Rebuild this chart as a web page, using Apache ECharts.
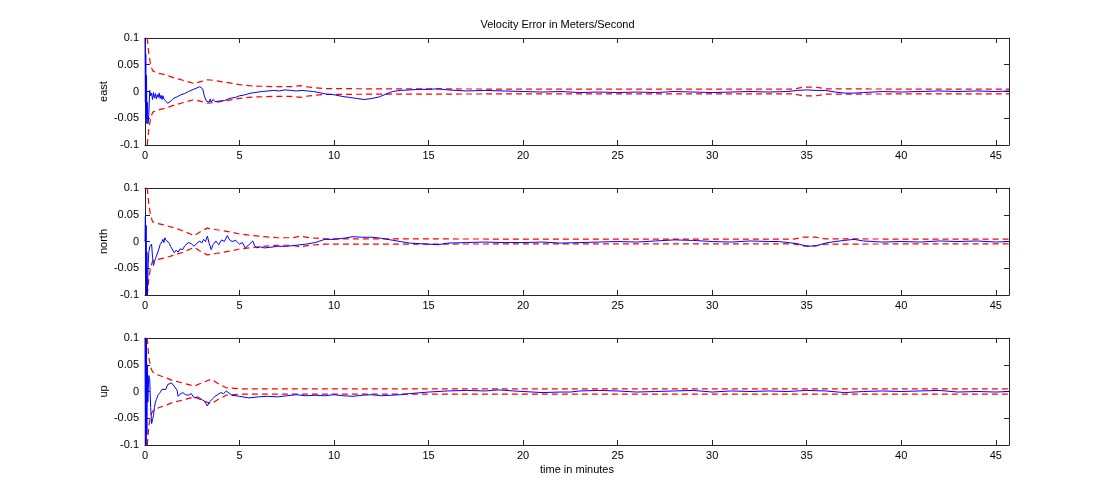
<!DOCTYPE html>
<html>
<head>
<meta charset="utf-8">
<script src="https://cdn.jsdelivr.net/npm/echarts@6/dist/echarts.min.js"></script>
<style>
html,body{margin:0;padding:0;background:#fff;}
#chart{width:1115px;height:500px;}
</style>
</head>
<body>
<div id="chart"></div>
<script>
const titleText = 'Velocity Error in Meters/Second';
const xLabelText = 'time in minutes';
const panelNames = ['east', 'north', 'up'];
const xTicks = [0, 5, 10, 15, 20, 25, 30, 35, 40, 45];
const yTicks = [-0.1, -0.05, 0, 0.05, 0.1];
const xMax = 45.7;

const eastError = [[0,0.1],[0.02,-0.02],[0.04,0.07],[0.06,-0.05],[0.08,0.03],[0.1,-0.06],[0.13,-0.02],[0.16,-0.06],[0.2,-0.045],[0.25,0.002],[0.3,-0.008],[0.35,-0.003],[0.4,-0.015],[0.45,-0.002],[0.5,-0.012],[0.55,-0.004],[0.6,-0.014],[0.65,-0.006],[0.7,-0.011],[0.75,-0.003],[0.8,-0.013],[0.85,-0.007],[0.9,-0.015],[0.95,-0.008],[1.0,-0.014],[1.1,-0.018],[1.2,-0.022],[1.3,-0.019],[1.4,-0.017],[1.5,-0.013],[1.6,-0.014],[1.7,-0.01],[1.8,-0.009],[1.9,-0.006],[2.0,-0.007],[2.1,-0.004],[2.2,-0.003],[2.3,0.0],[2.4,-0.001],[2.5,0.003],[2.6,0.004],[2.7,0.006],[2.8,0.006],[2.9,0.009],[3.0,0.01],[3.05,0.005],[3.15,-0.01],[3.25,-0.018],[3.3,-0.021],[3.35,-0.016],[3.4,-0.02],[3.45,-0.014],[3.5,-0.02],[3.6,-0.015],[3.7,-0.019],[3.8,-0.016],[3.9,-0.018],[4.0,-0.016],[4.2,-0.017],[4.4,-0.014],[4.6,-0.012],[4.8,-0.011],[5.0,-0.008],[5.2,-0.007],[5.4,-0.005],[5.6,-0.003],[5.8,-0.002],[6.0,-0.001],[6.2,0.0],[6.5,0.001],[6.8,0.002],[7.1,0.001],[7.4,0.003],[7.7,0.002],[8.0,0.001],[8.3,0.002],[8.6,0.001],[8.9,0.0],[9.2,-0.002],[9.6,-0.005],[10.0,-0.006],[10.4,-0.009],[10.8,-0.011],[11.2,-0.013],[11.6,-0.015],[12.0,-0.013],[12.4,-0.01],[12.8,-0.004],[13.1,0.0],[13.5,0.002],[14.0,0.003],[14.5,0.004],[15.0,0.004],[15.5,0.005],[16,0.003],[16.5,0.002],[17,0.001],[18,0.002],[19,0.001],[20,0.0],[21,-0.001],[22,0.0],[23,-0.002],[24,-0.001],[25,-0.002],[26,-0.001],[27,-0.002],[28,0.0],[29,-0.001],[30,-0.002],[31,-0.001],[32,0.0],[33,-0.001],[34,0.0],[34.5,0.002],[35,0.003],[35.5,0.002],[36,0.002],[36.5,-0.001],[37,-0.003],[37.5,-0.003],[38,-0.002],[39,0.0],[40,-0.001],[41,0.0],[42,0.001],[43,0.0],[44,0.001],[45,0.0],[45.7,0.001]];
const eastUpper = [[0.12,0.1],[0.2,0.07],[0.3,0.05],[0.4,0.039],[0.6,0.035],[1.0,0.032],[1.5,0.026],[2.0,0.021],[2.6,0.015],[3.0,0.019],[3.3,0.022],[3.6,0.021],[4.3,0.017],[5.0,0.013],[5.5,0.011],[6.0,0.01],[7.0,0.009],[7.7,0.009],[8.2,0.011],[8.7,0.008],[9.5,0.0055],[12,0.005],[20,0.0045],[30,0.0045],[34.3,0.0045],[34.8,0.008],[35.5,0.008],[36,0.005],[40,0.0045],[45.7,0.0045]];
const eastLower = [[0.12,-0.1],[0.2,-0.07],[0.3,-0.05],[0.4,-0.039],[0.6,-0.035],[1.0,-0.032],[1.5,-0.026],[2.0,-0.021],[2.6,-0.015],[3.0,-0.019],[3.3,-0.022],[3.6,-0.021],[4.3,-0.017],[5.0,-0.013],[5.5,-0.011],[6.0,-0.01],[7.0,-0.009],[7.7,-0.009],[8.2,-0.011],[8.7,-0.008],[9.5,-0.0055],[12,-0.005],[20,-0.0045],[30,-0.0045],[34.3,-0.0045],[34.8,-0.008],[35.5,-0.008],[36,-0.005],[40,-0.0045],[45.7,-0.0045]];

const northError = [[0,0.0],[0.02,0.047],[0.04,-0.06],[0.06,0.03],[0.08,-0.1],[0.1,-0.02],[0.13,-0.1],[0.16,-0.05],[0.2,-0.02],[0.25,-0.01],[0.3,-0.012],[0.35,-0.005],[0.4,-0.03],[0.45,-0.045],[0.5,-0.038],[0.55,-0.032],[0.6,-0.03],[0.7,-0.018],[0.8,-0.006],[0.9,0.0],[0.95,0.004],[1.0,-0.002],[1.05,0.007],[1.1,0.003],[1.15,0.006],[1.2,0.001],[1.3,-0.004],[1.35,-0.009],[1.45,-0.012],[1.55,-0.021],[1.65,-0.016],[1.75,-0.02],[1.85,-0.014],[2.0,-0.015],[2.1,-0.008],[2.2,-0.006],[2.3,-0.002],[2.45,-0.004],[2.6,-0.009],[2.75,-0.003],[2.9,0.001],[3.0,-0.003],[3.1,0.004],[3.2,0.0],[3.3,0.01],[3.4,-0.004],[3.5,-0.015],[3.6,-0.006],[3.75,0.001],[3.9,-0.006],[4.05,0.003],[4.2,0.0],[4.35,0.011],[4.45,0.004],[4.6,0.0],[4.8,0.002],[5.0,-0.005],[5.15,-0.002],[5.3,-0.012],[5.5,-0.006],[5.7,0.001],[5.8,-0.008],[5.9,-0.012],[6.1,-0.01],[6.3,-0.012],[6.6,-0.011],[7.0,-0.009],[7.5,-0.009],[8.0,-0.007],[8.5,-0.005],[9.0,-0.002],[9.5,0.004],[10,0.004],[10.5,0.006],[11,0.009],[11.5,0.008],[12,0.008],[12.5,0.006],[13,0.003],[13.5,0.0],[14,-0.003],[15,-0.005],[15.5,-0.006],[16,-0.003],[17,-0.002],[18,-0.001],[19,-0.002],[20,-0.002],[21,-0.001],[22,-0.003],[23,-0.002],[24,-0.001],[25,0.0],[26,-0.001],[27,0.001],[28,0.003],[29,0.002],[30,0.0],[31,-0.001],[32,0.001],[33,0.0],[33.5,0.0],[34.5,-0.004],[35,-0.009],[35.5,-0.008],[36,-0.003],[36.5,0.0],[37,0.002],[37.5,0.004],[38,0.001],[39,-0.001],[40,0.0],[41,-0.001],[42,0.001],[43,0.0],[44,0.001],[45,-0.001],[45.7,0.0]];
const northUpper = [[0.12,0.1],[0.2,0.07],[0.3,0.048],[0.4,0.037],[0.6,0.034],[1.0,0.031],[1.5,0.026],[2.0,0.02],[2.6,0.011],[3.0,0.02],[3.3,0.025],[3.8,0.022],[4.5,0.018],[5.0,0.014],[5.5,0.012],[6.0,0.01],[7.0,0.007],[7.8,0.007],[8.2,0.01],[8.7,0.007],[9.5,0.005],[12,0.005],[20,0.0045],[30,0.0045],[34.3,0.0045],[34.8,0.008],[35.5,0.008],[36,0.005],[40,0.0045],[45.7,0.0045]];
const northLower = [[0.12,-0.1],[0.2,-0.07],[0.3,-0.048],[0.4,-0.037],[0.6,-0.034],[1.0,-0.031],[1.5,-0.026],[2.0,-0.02],[2.6,-0.011],[3.0,-0.02],[3.3,-0.025],[3.8,-0.022],[4.5,-0.018],[5.0,-0.014],[5.5,-0.012],[6.0,-0.01],[7.0,-0.007],[7.8,-0.007],[8.2,-0.01],[8.7,-0.007],[9.5,-0.005],[12,-0.005],[20,-0.0045],[30,-0.0045],[34.3,-0.0045],[34.8,-0.008],[35.5,-0.008],[36,-0.005],[40,-0.0045],[45.7,-0.0045]];

const upError = [[0,0.1],[0.02,-0.1],[0.04,0.08],[0.06,-0.1],[0.08,0.1],[0.1,-0.08],[0.12,0.05],[0.15,-0.02],[0.2,0.03],[0.25,0.022],[0.3,-0.03],[0.35,-0.06],[0.4,-0.052],[0.45,-0.045],[0.5,-0.03],[0.55,-0.02],[0.6,-0.015],[0.7,-0.006],[0.8,-0.002],[0.9,0.004],[1.0,0.007],[1.1,0.004],[1.2,0.013],[1.3,0.01],[1.4,0.016],[1.5,0.012],[1.6,0.015],[1.7,0.002],[1.75,-0.009],[1.85,-0.005],[2.0,-0.002],[2.15,-0.006],[2.3,-0.007],[2.45,-0.004],[2.6,-0.012],[2.8,-0.01],[3.0,-0.015],[3.15,-0.018],[3.3,-0.027],[3.4,-0.02],[3.5,-0.018],[3.6,-0.013],[3.7,-0.009],[3.85,-0.006],[4.0,-0.002],[4.15,-0.004],[4.3,0.001],[4.45,-0.003],[4.6,-0.007],[5.0,-0.009],[5.5,-0.012],[6.0,-0.01],[6.5,-0.009],[7.0,-0.01],[7.5,-0.008],[8.0,-0.006],[8.5,-0.008],[9,-0.007],[9.5,-0.008],[10,-0.006],[10.5,-0.008],[11,-0.009],[11.5,-0.007],[12,-0.006],[12.5,-0.008],[13,-0.007],[13.5,-0.006],[14,-0.004],[15,-0.001],[16,0.001],[17,0.002],[18,0.001],[18.7,0.003],[19.5,0.001],[20,0.0],[21,-0.002],[22,-0.001],[22.5,-0.001],[23,0.001],[24,0.002],[25,0.001],[26,-0.001],[27,0.0],[28,0.001],[29,0.002],[30,-0.001],[31,0.001],[32,0.0],[33,0.001],[34,0.0],[35,0.002],[36,0.001],[37,-0.002],[38,0.0],[39,0.001],[40,0.0],[41,0.001],[42,0.002],[43,-0.001],[44,0.0],[45,-0.001],[45.7,0.0]];
const upUpper = [[0.12,0.1],[0.2,0.065],[0.3,0.045],[0.4,0.037],[0.6,0.032],[1.0,0.027],[1.5,0.02],[2.0,0.016],[2.6,0.01],[3.0,0.016],[3.5,0.023],[3.9,0.014],[4.3,0.007],[5.0,0.005],[6.0,0.005],[10,0.005],[20,0.005],[30,0.005],[40,0.005],[45.7,0.005]];
const upLower = [[0.12,-0.1],[0.2,-0.065],[0.3,-0.045],[0.4,-0.037],[0.6,-0.032],[1.0,-0.027],[1.5,-0.02],[2.0,-0.016],[2.6,-0.01],[3.0,-0.016],[3.5,-0.023],[3.9,-0.014],[4.3,-0.007],[5.0,-0.005],[6.0,-0.005],[10,-0.005],[20,-0.005],[30,-0.005],[40,-0.005],[45.7,-0.005]];

const panels = [
  { name: panelNames[0], err: eastError, up: eastUpper, lo: eastLower },
  { name: panelNames[1], err: northError, up: northUpper, lo: northLower },
  { name: panelNames[2], err: upError, up: upUpper, lo: upLower }
];

const FONT = 'Liberation Sans, Arial, Helvetica, sans-serif';
const gridTops = [38, 188, 338];
const gridH = 107;
const axisColor = '#262626';

const grids = [], xAxes = [], yAxes = [], series = [];
panels.forEach((p, i) => {
  grids.push({ left: 145, right: 106, top: gridTops[i], height: gridH, containLabel: false });
  const xBase = {
    gridIndex: i, type: 'value', min: 0, max: xMax, interval: 5,
    axisLine: { show: true, onZero: false, lineStyle: { color: axisColor, width: 1 } },
    axisTick: { show: true, inside: true, length: 5, lineStyle: { color: axisColor } },
    splitLine: { show: false }
  };
  xAxes.push(Object.assign({}, xBase, {
    position: 'bottom',
    axisLabel: {
      show: true, color: '#000', fontSize: 11, fontFamily: FONT, margin: 5,
      formatter: v => (xTicks.indexOf(v) >= 0 ? String(v) : '')
    },
    name: i === 2 ? xLabelText : '', nameLocation: 'middle', nameGap: 19,
    nameTextStyle: { color: '#000', fontSize: 11, fontFamily: FONT }
  }));
  xAxes.push(Object.assign({}, xBase, { position: 'top', axisLabel: { show: false } }));
  const yBase = {
    gridIndex: i, type: 'value', min: -0.1, max: 0.1, interval: 0.05,
    axisLine: { show: true, onZero: false, lineStyle: { color: axisColor, width: 1 } },
    axisTick: { show: true, inside: true, length: 5, lineStyle: { color: axisColor } },
    splitLine: { show: false }
  };
  yAxes.push(Object.assign({}, yBase, {
    position: 'left',
    axisLabel: {
      show: true, color: '#000', fontSize: 11, fontFamily: FONT, margin: 6,
      formatter: v => {
        const r = Math.round(v * 100) / 100;
        const k = yTicks.find(t => Math.abs(t - r) < 1e-9);
        return k === undefined ? '' : String(k);
      }
    },
    name: p.name, nameLocation: 'middle', nameRotate: 90, nameGap: 36, nameMoveOverlap: false,
    nameTextStyle: { color: '#000', fontSize: 11, fontFamily: FONT }
  }));
  yAxes.push(Object.assign({}, yBase, { position: 'right', axisLabel: { show: false } }));

  const xi = i * 2, yi = i * 2;
  series.push({
    type: 'line', xAxisIndex: xi, yAxisIndex: yi, data: p.up, symbol: 'none',
    lineStyle: { color: '#ff0000', width: 1.2, type: [6, 4] }, silent: true, z: 3, clip: true
  });
  series.push({
    type: 'line', xAxisIndex: xi, yAxisIndex: yi, data: p.lo, symbol: 'none',
    lineStyle: { color: '#ff0000', width: 1.2, type: [6, 4] }, silent: true, z: 3, clip: true
  });
  series.push({
    type: 'line', xAxisIndex: xi, yAxisIndex: yi, data: p.err, symbol: 'none',
    lineStyle: { color: '#0000ff', width: 1 }, silent: true, z: 4, clip: true
  });
});

const chart = echarts.init(document.getElementById('chart'), null, { renderer: 'canvas' });
chart.setOption({
  animation: false,
  backgroundColor: '#ffffff',
  title: {
    text: titleText, left: 'center', top: 14,
    textStyle: { color: '#000', fontSize: 11, fontWeight: 'normal', fontFamily: FONT }
  },
  grid: grids, xAxis: xAxes, yAxis: yAxes, series: series
});
</script>
</body>
</html>
